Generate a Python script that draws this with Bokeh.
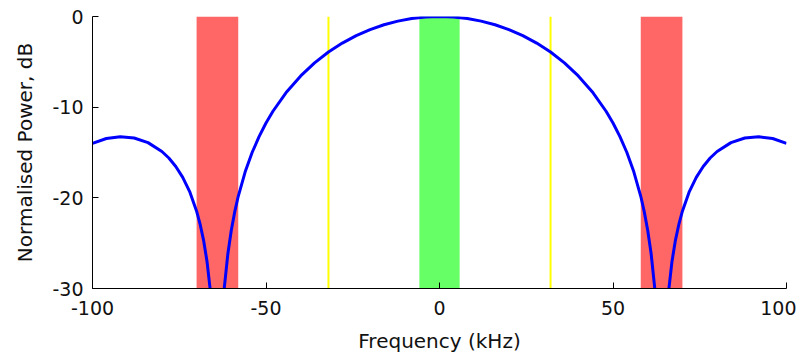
from bokeh.plotting import figure
from bokeh.models import Range1d, FixedTicker, PrintfTickFormatter
from bokeh.embed import file_html
from bokeh.resources import INLINE

# Frequency (kHz) and normalised power (dB)
freq_pos = [0, 4, 8, 12, 16, 20, 24, 28, 32, 36, 40, 44, 48, 50, 52, 54, 56, 58, 59, 60,
            61, 62, 63, 64, 65, 66, 67, 68, 69, 70, 72, 74, 76, 78, 80, 84, 88, 92, 96, 100]
power_pos = [0.0, -0.06, -0.22, -0.51, -0.91, -1.44, -2.11, -2.93, -3.92, -5.11, -6.55, -8.29,
             -10.45, -11.75, -13.25, -15.0, -17.13, -19.83, -21.52, -23.58, -26.2, -29.84,
             -35.99, -60.0, -36.26, -30.39, -27.01, -24.66, -22.89, -21.47, -19.31, -17.74,
             -16.54, -15.61, -14.89, -13.91, -13.4, -13.26, -13.46, -13.99]
freq = [-f for f in reversed(freq_pos[1:])] + freq_pos
power = list(reversed(power_pos[1:])) + power_pos

# Shaded bands (kHz)
red_left = [-70, 58]
red_right = [-58, 70]
green_left = [-5.8]
green_right = [5.8]
yellow_x = [-32, 32]

x_ticks = [-100, -50, 0, 50, 100]
y_ticks = [-30, -20, -10, 0]

p = figure(width=796, height=356, output_backend="svg", toolbar_location=None,
           x_range=Range1d(-100, 100), y_range=Range1d(-30, 0),
           min_border_left=92, min_border_right=10, min_border_top=16, min_border_bottom=68)
p.outline_line_color = None
p.xgrid.visible = False
p.ygrid.visible = False
p.background_fill_color = "white"

p.quad(left=red_left, right=red_right, bottom=-30, top=0, fill_color="#FF6666",
       line_color=None)
p.quad(left=green_left, right=green_right, bottom=-30, top=0, fill_color="#66FF66",
       line_color=None)
p.segment(x0=yellow_x, x1=yellow_x, y0=[-30, -30], y1=[0, 0], line_color="#FFFF00",
          line_width=2)
p.line(freq, power, line_color="#0000FF", line_width=3)

for ax in (p.xaxis[0], p.yaxis[0]):
    ax.major_tick_in = 6
    ax.major_tick_out = 0
    ax.minor_tick_in = 0
    ax.minor_tick_out = 0
    ax.axis_line_color = "black"
    ax.major_tick_line_color = "black"
    ax.major_label_text_font = "DejaVu Sans"
    ax.major_label_text_font_size = "19px"
    ax.major_label_text_color = "#111111"
    ax.axis_label_text_font = "DejaVu Sans"
    ax.axis_label_text_font_size = "20px"
    ax.axis_label_text_font_style = "normal"
    ax.axis_label_text_color = "#111111"
    ax.formatter = PrintfTickFormatter(format="%d")

p.xaxis.ticker = FixedTicker(ticks=x_ticks)
p.yaxis.ticker = FixedTicker(ticks=y_ticks)
p.xaxis.axis_label = "Frequency (kHz)"
p.yaxis.axis_label = "Normalised Power, dB"
p.xaxis.major_label_standoff = 12
p.yaxis.major_label_standoff = 9
p.xaxis.axis_label_standoff = 11
p.yaxis.axis_label_standoff = 12

open("out.html", "w").write(file_html(p, INLINE))
